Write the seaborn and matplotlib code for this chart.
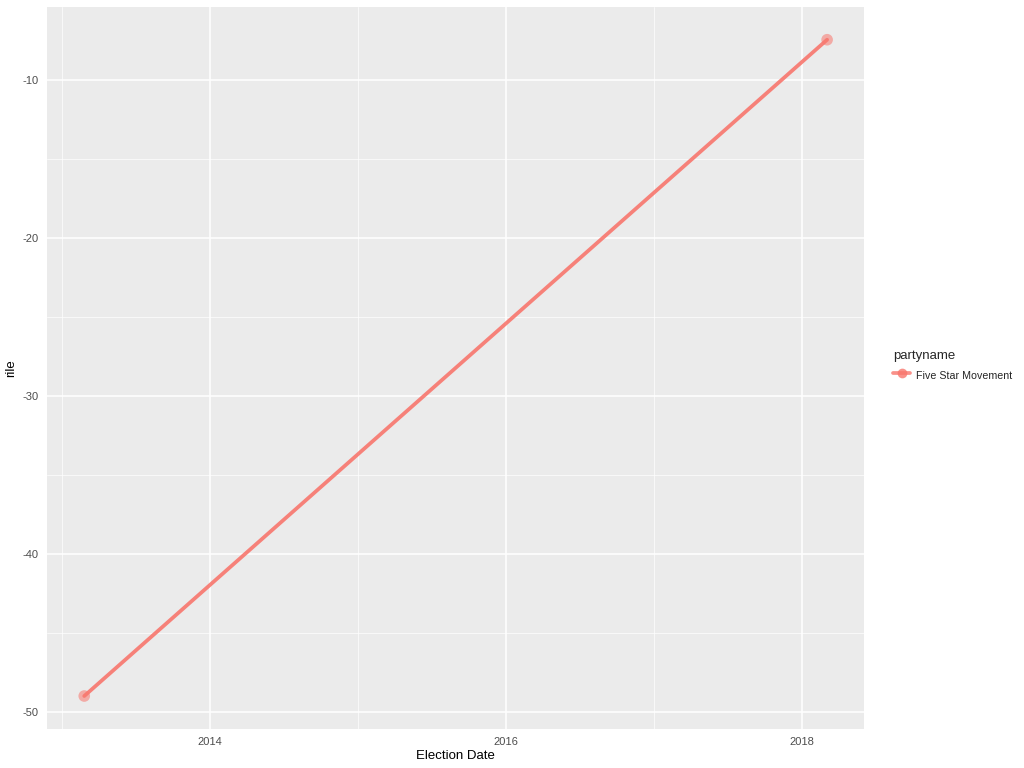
import matplotlib
matplotlib.use("Agg")
import matplotlib.pyplot as plt
import matplotlib.dates as mdates
from matplotlib.lines import Line2D
import seaborn as sns
import pandas as pd

# data
election_dates = ["2013-02-24", "2018-03-04"]
rile = [-48.98, -7.42]
party = ["Five Star Movement", "Five Star Movement"]

df = pd.DataFrame({"Election Date": pd.to_datetime(election_dates),
                   "rile": rile,
                   "partyname": party})

sns.set_style("darkgrid", {"axes.facecolor": "#EBEBEB", "grid.color": "white"})
plt.rcParams["font.family"] = ["Liberation Sans", "DejaVu Sans"]
plt.rcParams["axes.unicode_minus"] = False

fig = plt.figure(figsize=(10.24, 7.68), dpi=100)
ax = fig.add_axes([0.046, 0.051, 0.798, 0.940])

red = "#F8766D"
sns.lineplot(data=df, x="Election Date", y="rile", hue="partyname",
             palette=[red], linewidth=2.7, alpha=0.9, ax=ax, legend=False)
sns.scatterplot(data=df, x="Election Date", y="rile", hue="partyname",
                palette=[red], s=70, alpha=0.55, edgecolor="none", ax=ax,
                legend=False)

# ggplot style 5% expansion
x0, x1 = mdates.date2num(df["Election Date"].min()), mdates.date2num(df["Election Date"].max())
dx = (x1 - x0) * 0.05
ax.set_xlim(x0 - dx, x1 + dx)
ymin, ymax = min(rile), max(rile)
dy = (ymax - ymin) * 0.05
ax.set_ylim(ymin - dy, ymax + dy)

major_years = [2014, 2016, 2018]
minor_years = [2013, 2015, 2017]
ax.set_xticks([mdates.date2num(pd.Timestamp(f"{y}-01-01")) for y in major_years])
ax.set_xticklabels([str(y) for y in major_years])
ax.set_xticks([mdates.date2num(pd.Timestamp(f"{y}-01-01")) for y in minor_years], minor=True)
ax.set_yticks([-50, -40, -30, -20, -10])
ax.set_yticks([-45, -35, -25, -15], minor=True)

ax.grid(which="major", color="white", linewidth=1.1)
ax.grid(which="minor", color="white", linewidth=0.5)
ax.tick_params(which="major", length=3, width=0.8, color="#333333",
               labelsize=8, labelcolor="#4D4D4D", pad=3)
ax.tick_params(which="minor", length=0)
for s in ax.spines.values():
    s.set_visible(False)

ax.set_xlabel("Election Date", fontsize=9.5, color="black", labelpad=2)
ax.set_ylabel("rile", fontsize=9.5, color="black", labelpad=4)

# legend outside on the right
handle = Line2D([], [], color=red, linewidth=2.7, marker="o", markersize=7,
                markerfacecolor=red, markeredgecolor="none", alpha=0.8)
leg = ax.legend([handle], ["Five Star Movement"], title="partyname",
                loc="upper left", bbox_to_anchor=(1.03, 0.53), frameon=False,
                fontsize=7.7, title_fontsize=9.5, handlelength=1.6,
                handleheight=1.8, handletextpad=0.5, borderaxespad=0)
leg._legend_box.align = "left"

fig.savefig("out.png", dpi=100)
